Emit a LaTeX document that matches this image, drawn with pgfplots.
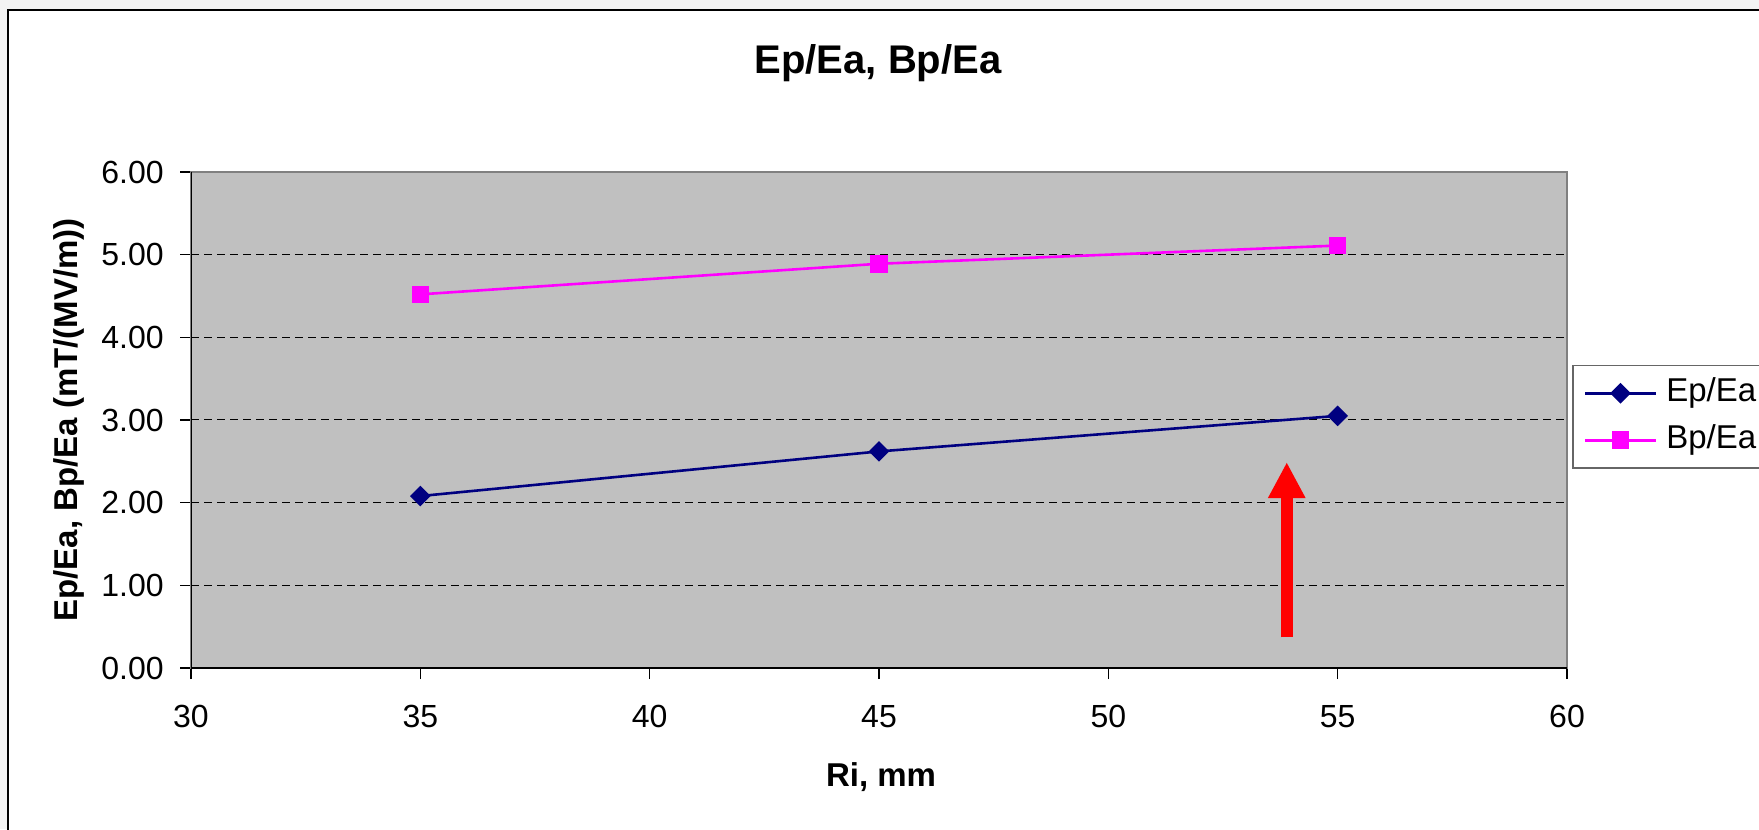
\documentclass[border=0pt]{standalone}
\usepackage{fontspec}
\setmainfont{Liberation Sans}
\usepackage{pgfplots}
\pgfplotsset{compat=1.18}
\usetikzlibrary{arrows.meta}
\definecolor{bggray}{RGB}{243,243,243}
\definecolor{plotgray}{RGB}{192,192,192}
\definecolor{navyX}{RGB}{0,0,128}
\definecolor{magentaX}{RGB}{255,0,255}
\pgfplotsset{longlegend/.style={legend image code/.code={\draw[mark=none] (0pt,0pt) -- (35.5pt,0pt); \draw plot[only marks] coordinates {(17.75pt,0pt)};}}}
\begin{document}
\begin{tikzpicture}
\useasboundingbox (0,0) rectangle (879.5pt,414.5pt);
\clip (0,0) rectangle (879.5pt,414.5pt);
\fill[bggray] (0,0) rectangle (879.5pt,414.5pt);
\filldraw[fill=white, draw=black, line width=0.8pt] (4pt,-10pt) rectangle (900pt,409.5pt);
\begin{axis}[
  at={(95.5pt,80.5pt)}, anchor=south west,
  scale only axis, width=688pt, height=248pt,
  xmin=30, xmax=60, ymin=0, ymax=6,
  xtick={30,35,...,60}, ytick={0,1,...,6},
  axis background/.style={fill=plotgray},
  axis line style={draw=black!50, line width=1pt},
  tick align=outside, tick pos=left,
  major tick length=5.5pt,
  tick style={black, line width=0.6pt},
  ymajorgrids,
  major grid style={dash pattern=on 4pt off 2.5pt, black, line width=0.5pt},
  /pgf/number format/assume math mode=true,
  ticklabel style={font=\fontsize{16}{19}\selectfont},
  yticklabel style={/pgf/number format/fixed, /pgf/number format/fixed zerofill, /pgf/number format/precision=2, anchor=east, inner sep=0pt, xshift=-8pt},
  xticklabel style={anchor=north, inner sep=0pt, yshift=-13pt},
  legend style={at={(1,1)}, anchor=north west, xshift=2.5pt, yshift=-96.5pt,
    draw=black!60, line width=0.75pt, fill=white,
    font=\fontsize{16.5}{20}\selectfont,
    inner xsep=5.5pt, inner ysep=6pt, row sep=8pt, column sep=4.5pt,
    nodes={inner sep=0pt, text height=12pt, text depth=3.5pt}},
  legend cell align=left,
]
\addplot[navyX, line width=1.3pt, mark=square*, mark size=3pt, mark options={rotate=45, solid}, longlegend] coordinates {(35,2.08) (45,2.62) (55,3.05)};
\addplot[magentaX, line width=1.3pt, mark=square*, mark size=3.75pt, mark options={solid}, longlegend] coordinates {(35,4.52) (45,4.89) (55,5.11)};
\legend{Ep/Ea, Bp/Ea}
\draw[red, line width=6pt, -{Triangle[width=17.5pt,length=18pt]}] (axis cs:53.89,0.37) -- (axis cs:53.89,2.49);
\draw[black, line width=0.8pt] (axis cs:30,6) -- (axis cs:30,0) -- (axis cs:60,0);
\end{axis}
\node[anchor=base, font=\fontsize{20}{24}\selectfont\bfseries] at (439pt,377.5pt) {Ep/Ea, Bp/Ea};
\node[anchor=base, font=\fontsize{16.5}{20}\selectfont\bfseries] at (440.5pt,21pt) {Ri, mm};
\node[anchor=base, rotate=90, font=\fontsize{16.5}{20}\selectfont\bfseries] at (38.5pt,204.5pt) {Ep/Ea, Bp/Ea (mT/(MV/m))};
\end{tikzpicture}
\end{document}
